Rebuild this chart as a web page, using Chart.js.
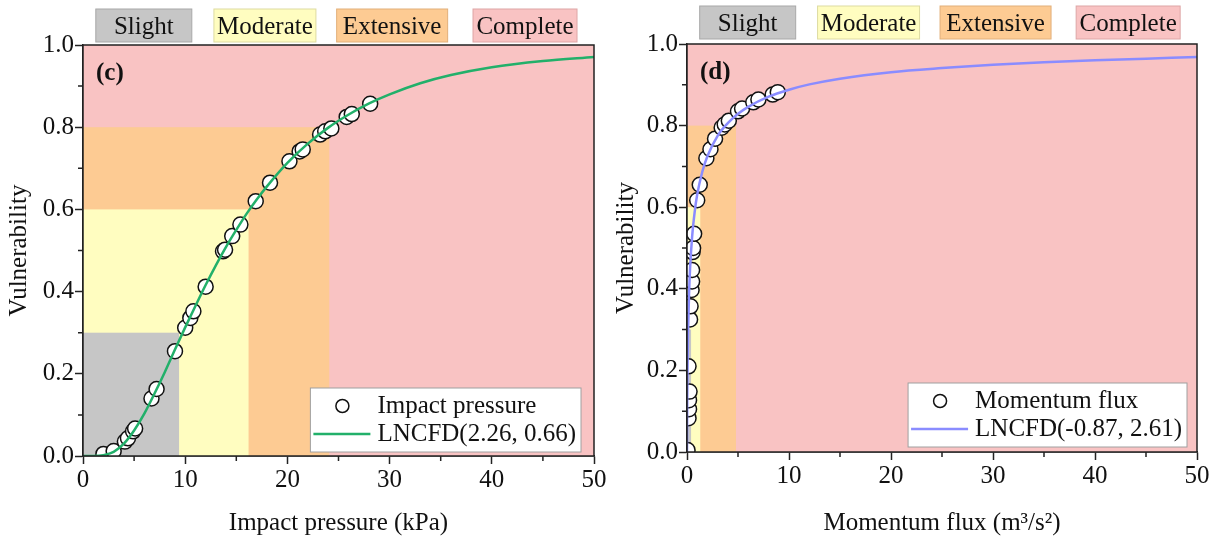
<!DOCTYPE html>
<html>
<head>
<meta charset="utf-8">
<script src="https://cdn.jsdelivr.net/npm/chart.js@4.4.1/dist/chart.umd.min.js"></script>
<style>
  html, body { margin: 0; padding: 0; background: #fff; }
  .panel { position: absolute; top: 0; height: 544px; }
  #panelC { left: 0; width: 610px; }
  #panelD { left: 610px; width: 606px; }
</style>
</head>
<body>
<div class="panel" id="panelC"><canvas id="chartC"></canvas></div>
<div class="panel" id="panelD"><canvas id="chartD"></canvas></div>
<script>
const serif = '"Liberation Serif", "Times New Roman", serif';

// damage states, shared by both panels
const stateNames = ['Slight', 'Moderate', 'Extensive', 'Complete'];
const stateFills = ['#c6c6c6', '#fffdc0', '#fdcb93', '#f9c3c3'];
const stateEdges = ['#a8a8a8', '#dedba2', '#e2b07a', '#dea6a6'];
const stateLevels = [0.3, 0.6, 0.8, 1.0];

const xTickValues = [0, 10, 20, 30, 40, 50];
const xMinorTicks = [5, 15, 25, 35, 45];
const yTickValues = [0, 0.2, 0.4, 0.6, 0.8, 1.0];
const yMinorTicks = [0.1, 0.3, 0.5, 0.7, 0.9];

// (c) impact pressure
const pressureLimits = [9.4, 16.2, 24.1, 50];
const pressureX = [2.0, 3.0, 4.1, 4.4, 4.9, 5.1, 6.7, 7.2, 9.0, 10.0, 10.5, 10.8, 12.0, 13.7, 13.9,
  14.6, 15.4, 16.9, 18.3, 20.2, 21.2, 21.5, 23.2, 23.7, 24.3, 25.8, 26.3, 28.1];
const pressureY = [0.005, 0.012, 0.035, 0.043, 0.06, 0.067, 0.14, 0.163, 0.255, 0.312, 0.336, 0.352, 0.412, 0.498, 0.502,
  0.535, 0.563, 0.62, 0.665, 0.717, 0.741, 0.746, 0.782, 0.79, 0.797, 0.825, 0.832, 0.857];
const pressureFitX = [0, 1, 2, 3, 4, 5, 6, 7, 8, 9, 10, 11, 12, 13, 14, 15, 16, 17, 18, 20, 22, 24, 26, 28, 30, 33, 36, 40, 45, 50];
const pressureFitY = [0, 0, 0.002, 0.01, 0.03, 0.062, 0.103, 0.152, 0.204, 0.259, 0.313, 0.365, 0.416, 0.464, 0.509,
  0.55, 0.589, 0.624, 0.656, 0.713, 0.76, 0.799, 0.831, 0.858, 0.88, 0.907, 0.927, 0.946, 0.961, 0.971];

// (d) momentum flux
const fluxLimits = [0.4, 1.3, 4.8, 50];
const fluxX = [0.05, 0.15, 0.2, 0.2, 0.25, 0.15, 0.3, 0.35, 0.45, 0.5, 0.5, 0.55, 0.6, 0.7, 1.0, 1.25,
  1.9, 2.3, 2.75, 3.4, 3.7, 4.1, 5.0, 5.4, 6.5, 7.0, 8.4, 8.9];
const fluxY = [0.005, 0.083, 0.105, 0.127, 0.148, 0.21, 0.325, 0.357, 0.397, 0.418, 0.446, 0.49, 0.5, 0.535, 0.617, 0.655,
  0.72, 0.742, 0.768, 0.795, 0.803, 0.812, 0.835, 0.842, 0.857, 0.864, 0.876, 0.882];
const fluxFitX = [0, 0.001, 0.005, 0.01, 0.02, 0.05, 0.1, 0.2, 0.3, 0.5, 0.75, 1, 1.5, 2, 3, 4, 5, 6, 8, 10,
  12, 15, 20, 25, 30, 35, 40, 45, 50];
const fluxFitY = [0, 0.01, 0.045, 0.076, 0.122, 0.208, 0.291, 0.388, 0.449, 0.527, 0.588, 0.631, 0.687, 0.725, 0.775, 0.806, 0.829, 0.846, 0.871, 0.888,
  0.901, 0.915, 0.931, 0.941, 0.949, 0.955, 0.96, 0.964, 0.968];

Chart.defaults.font.family = serif;
Chart.defaults.color = '#111';

const toPoints = (xs, ys) => xs.map((x, i) => ({ x, y: ys[i] }));

// coloured damage-state zones behind the data
const zonesPlugin = {
  id: 'zones',
  beforeDatasetsDraw(chart, args, opts) {
    const { ctx, chartArea: a, scales: { x, y } } = chart;
    ctx.save();
    for (let i = stateNames.length - 1; i >= 0; i--) {
      const right = Math.min(x.getPixelForValue(opts.limits[i]), a.right);
      const top = y.getPixelForValue(stateLevels[i]);
      ctx.fillStyle = stateFills[i];
      ctx.fillRect(a.left, top, right - a.left, a.bottom - top);
    }
    ctx.restore();
  }
};

// box round the plot, minor ticks, panel tag and the state header boxes
const framePlugin = {
  id: 'frame',
  afterDraw(chart, args, opts) {
    const { ctx, chartArea: a, scales: { x, y } } = chart;
    ctx.save();
    ctx.strokeStyle = '#222';
    ctx.lineWidth = 1.5;
    ctx.strokeRect(a.left, a.top, a.right - a.left, a.bottom - a.top);
    ctx.beginPath();
    xMinorTicks.forEach(v => {
      const px = x.getPixelForValue(v);
      ctx.moveTo(px, a.bottom);
      ctx.lineTo(px, a.bottom + 5);
    });
    yMinorTicks.forEach(v => {
      const py = y.getPixelForValue(v);
      ctx.moveTo(a.left, py);
      ctx.lineTo(a.left - 5, py);
    });
    ctx.stroke();

    ctx.fillStyle = '#111';
    ctx.font = `bold 25px ${serif}`;
    ctx.textBaseline = 'middle';
    ctx.fillText(opts.tag, a.left + 13, a.top + 29);

    const headerWidths = [96, 102, 111, 104];
    const headerCenters = [0.119, 0.356, 0.605, 0.865];
    ctx.font = `25px ${serif}`;
    ctx.textAlign = 'center';
    ctx.lineWidth = 1;
    stateNames.forEach((name, i) => {
      const cx = a.left + headerCenters[i] * (a.right - a.left);
      const w = headerWidths[i];
      const top = a.top - opts.headerGap;
      ctx.fillStyle = stateFills[i];
      ctx.fillRect(cx - w / 2, top, w, 33);
      ctx.strokeStyle = stateEdges[i];
      ctx.strokeRect(cx - w / 2, top, w, 33);
      ctx.fillStyle = '#111';
      ctx.fillText(name, cx, top + 18);
    });
    ctx.restore();
  }
};

// legend box in the lower right corner of the plot
const boxLegendPlugin = {
  id: 'boxLegend',
  afterDraw(chart, args, opts) {
    const { ctx, chartArea: a } = chart;
    const [fit, obs] = chart.data.datasets;
    ctx.save();
    ctx.font = `25px ${serif}`;
    const textW = Math.max(ctx.measureText(obs.label).width, ctx.measureText(fit.label).width);
    const w = 67 + textW + 5;
    const h = 64;
    const left = a.right - opts.right - w;
    const top = a.bottom - opts.bottom - h;
    ctx.fillStyle = '#fff';
    ctx.fillRect(left, top, w, h);
    ctx.strokeStyle = '#a0a0a0';
    ctx.lineWidth = 1;
    ctx.strokeRect(left, top, w, h);

    const row1 = top + 18, row2 = top + 46;
    ctx.beginPath();
    ctx.arc(left + 32, row1, 6.5, 0, Math.PI * 2);
    ctx.strokeStyle = '#111';
    ctx.lineWidth = 1.5;
    ctx.stroke();
    ctx.beginPath();
    ctx.moveTo(left + 3, row2);
    ctx.lineTo(left + 60, row2);
    ctx.strokeStyle = fit.borderColor;
    ctx.lineWidth = 2.5;
    ctx.stroke();

    ctx.fillStyle = '#111';
    ctx.textBaseline = 'middle';
    ctx.fillText(obs.label, left + 67, row1);
    ctx.fillText(fit.label, left + 67, row2);
    ctx.restore();
  }
};

function makeChart(id, cfg) {
  return new Chart(document.getElementById(id), {
    type: 'scatter',
    data: {
      datasets: [
        {
          type: 'line',
          label: cfg.fitLabel,
          data: toPoints(cfg.fitX, cfg.fitY),
          borderColor: cfg.lineColor,
          borderWidth: 2.5,
          pointRadius: 0,
          cubicInterpolationMode: 'monotone',
          order: 0
        },
        {
          label: cfg.obsLabel,
          data: toPoints(cfg.obsX, cfg.obsY),
          pointRadius: 7.5,
          pointBackgroundColor: '#fff',
          pointBorderColor: '#111',
          pointBorderWidth: 1.5,
          order: 1
        }
      ]
    },
    options: {
      responsive: true,
      maintainAspectRatio: false,
      animation: false,
      layout: { padding: { top: cfg.top, right: cfg.right, left: 0, bottom: 0 } },
      plugins: {
        legend: { display: false },
        tooltip: { enabled: false },
        zones: { limits: cfg.limits },
        frame: { tag: cfg.tag, headerGap: cfg.headerGap },
        boxLegend: { right: cfg.legendRight, bottom: cfg.legendBottom }
      },
      scales: {
        x: {
          type: 'linear',
          min: 0,
          max: 50,
          afterBuildTicks: s => { s.ticks = xTickValues.map(v => ({ value: v })); },
          afterFit: s => { s.height = cfg.xHeight; },
          ticks: { font: { size: 25 }, color: '#111', padding: 1, maxRotation: 0, autoSkip: false },
          grid: { drawOnChartArea: false, tickLength: 8, tickColor: '#222', tickWidth: 1.5 },
          border: { color: '#222', width: 1.5 },
          title: { display: true, text: cfg.xTitle, font: { size: 25 }, color: '#111', padding: { bottom: 6 } }
        },
        y: {
          type: 'linear',
          min: 0,
          max: 1,
          afterBuildTicks: s => { s.ticks = yTickValues.map(v => ({ value: v })); },
          afterFit: s => { s.width = cfg.yWidth; },
          ticks: { font: { size: 25 }, color: '#111', padding: 1, callback: v => v.toFixed(1) },
          grid: { drawOnChartArea: false, tickLength: 8, tickColor: '#222', tickWidth: 1.5 },
          border: { color: '#222', width: 1.5 },
          title: { display: true, text: 'Vulnerability', font: { size: 25 }, color: '#111', padding: { top: cfg.yTitlePad } }
        }
      }
    },
    plugins: [zonesPlugin, framePlugin, boxLegendPlugin]
  });
}

makeChart('chartC', {
  tag: '(c)',
  obsLabel: 'Impact pressure',
  fitLabel: 'LNCFD(2.26, 0.66)',
  obsX: pressureX, obsY: pressureY,
  fitX: pressureFitX, fitY: pressureFitY,
  limits: pressureLimits,
  lineColor: '#22b06a',
  xTitle: 'Impact pressure (kPa)',
  top: 45, right: 16, xHeight: 88, yWidth: 83, yTitlePad: 4,
  headerGap: 36, legendRight: 13, legendBottom: 4
});

makeChart('chartD', {
  tag: '(d)',
  obsLabel: 'Momentum flux',
  fitLabel: 'LNCFD(-0.87, 2.61)',
  obsX: fluxX, obsY: fluxY,
  fitX: fluxFitX, fitY: fluxFitY,
  limits: fluxLimits,
  lineColor: '#8a8cff',
  xTitle: 'Momentum flux (m³/s²)',
  top: 44, right: 19, xHeight: 92, yWidth: 77, yTitlePad: 1,
  headerGap: 38, legendRight: 10, legendBottom: 5
});
</script>
</body>
</html>
